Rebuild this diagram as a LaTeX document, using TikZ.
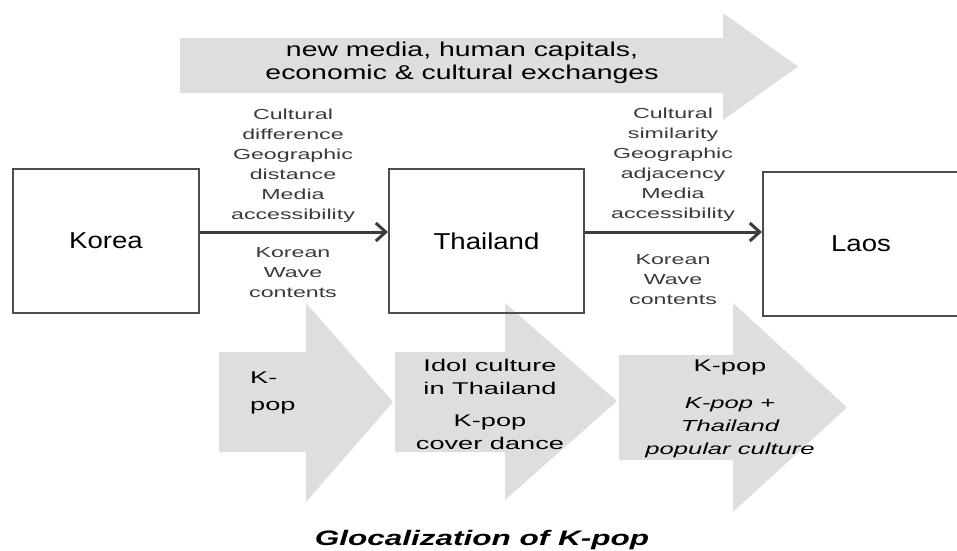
\documentclass[tikz,border=0pt]{standalone}
\usepackage{fontspec}
\setmainfont{Liberation Sans}
\newfontfamily\boxfont[FakeStretch=1.2]{Liberation Sans}
\newfontfamily\lblfont[FakeStretch=1.6]{Liberation Sans}
\newfontfamily\topfont[FakeStretch=1.42]{Liberation Sans}
\newfontfamily\titlefont[FakeStretch=1.5]{Liberation Sans}
\usetikzlibrary{positioning, arrows.meta}
\definecolor{arrowgray}{HTML}{DEDEDE}
\definecolor{boxline}{HTML}{4D4D4D}
\definecolor{connink}{HTML}{3C3C3C}
\definecolor{lblink}{HTML}{3A3A3A}

\begin{document}
\begin{tikzpicture}[
  x=1pt, y=-1pt,
  line join=miter,
  fatarrow/.style = {fill=arrowgray, draw=none},
  country/.style  = {draw=boxline, line width=2pt, minimum height=144pt,
                     inner sep=0pt, anchor=center,
                     font=\boxfont\fontsize{23}{27}\selectfont},
  factor/.style   = {font=\lblfont\fontsize{14.5}{20}\selectfont, color=lblink,
                     align=center, inner sep=0pt},
  flow/.style     = {draw=connink, line width=3pt,
                     -{Straight Barb[length=10pt, width=18pt]}},
  media/.style    = {font=\topfont\fontsize{20}{23}\selectfont, align=center,
                     inner sep=0pt},
  stage/.style    = {font=\lblfont\fontsize{17}{23}\selectfont, inner sep=0pt},
  caption/.style  = {font=\titlefont\bfseries\itshape\fontsize{21}{25}\selectfont,
                     inner sep=0pt}
]
\useasboundingbox (0,0) rectangle (957,550);

% big flow arrow on top
\fill[fatarrow] (180,38) -- (723,38) -- (723,13) -- (798,66.5) -- (723,120)
  -- (723,93) -- (180,93) -- cycle;
\node[media] (exch) at (462,63) {new media, human capitals,\\economic \& cultural exchanges};

% stage arrows below
\fill[fatarrow] (219,352) -- (306,352) -- (306,303) -- (393,402) -- (306,502)
  -- (306,452) -- (219,452) -- cycle;
\fill[fatarrow] (395,352) -- (505,352) -- (505,303) -- (617,401) -- (505,500)
  -- (505,452) -- (395,452) -- cycle;
\fill[fatarrow] (619,355) -- (733,355) -- (733,303) -- (847,407.5) -- (733,512)
  -- (733,460) -- (619,460) -- cycle;

% countries
\node[country, minimum width=186pt] (korea) at (106,241) {Korea};
\node[country, minimum width=195pt] (thailand) at (486.5,241) {Thailand};
\node[country, minimum width=196pt] (laos) at (861,244) {Laos};

% diffusion links
\draw[flow] ([yshift=9pt]korea.east) -- ([yshift=9pt]korea.east -| thailand.west);
\draw[flow] ([yshift=9pt]thailand.east) -- ([yshift=9pt]thailand.east -| laos.west);

\node[factor] (kt-up) at (293,166) {Cultural\\difference\\Geographic\\distance\\Media\\accessibility};
\node[factor] (kt-low) at (293,273) {Korean\\Wave\\contents};
\node[factor] (tl-up) at (673,165) {Cultural\\similarity\\Geographic\\adjacency\\Media\\accessibility};
\node[factor] (tl-low) at (673,280) {Korean\\Wave\\contents};

% texts on stage arrows
\node[stage, anchor=west, align=left, font=\lblfont\fontsize{17}{27}\selectfont]
  (kpop) at (250,393) {K-\\pop};
\node[stage, align=center] (idol) at (490,404)
  {Idol culture\\in Thailand\\[9pt]K-pop\\cover dance};
\node[stage, align=center] (mix) at (730,409)
  {K-pop\\[14pt]{\itshape\fontsize{16}{22}\selectfont K-pop +}\\
   {\itshape\fontsize{16}{22}\selectfont Thailand}\\
   {\itshape\fontsize{16}{22}\selectfont popular culture}};

\node[caption] (gloc) at (482,540) {Glocalization of K-pop};

\end{tikzpicture}
\end{document}
